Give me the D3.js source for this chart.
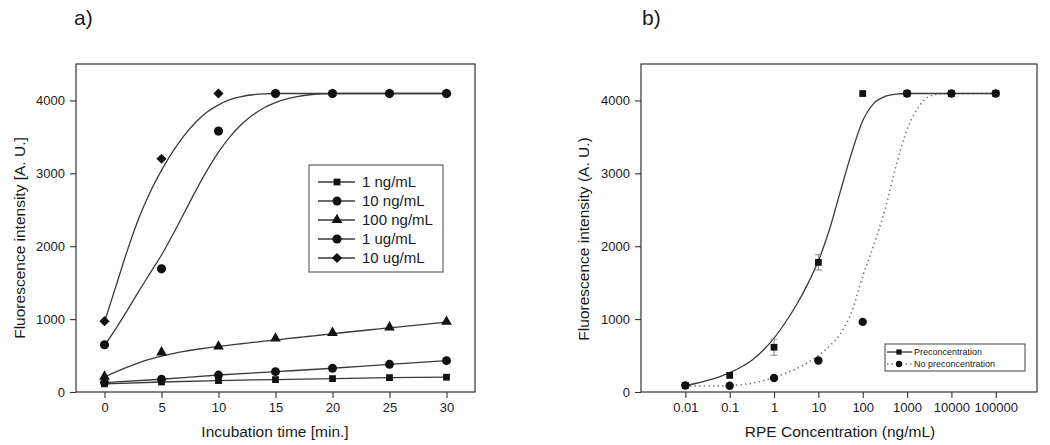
<!DOCTYPE html>
<html lang="en">
<head>
<meta charset="utf-8">
<title>Fluorescence intensity</title>
<script src="https://cdnjs.cloudflare.com/ajax/libs/d3/7.8.5/d3.min.js"></script>
<style>
  html, body {margin: 0; padding: 0; background: #fff;}
  svg {display: block; font-family: Arial, "Liberation Sans", Helvetica, sans-serif;}
  .frame {fill: none; stroke: #333; stroke-width: 1.2;}
  .tick line {stroke: #333; stroke-width: 1.1;}
  .tick text {fill: #1a1a1a; font-size: 13px;}
  text {fill: #1a1a1a;}
  .fit {fill: none; stroke: #3a3a3a; stroke-width: 1.3;}
  .dotted {fill: none; stroke: #777; stroke-width: 1.6; stroke-dasharray: 1.4 3.2;}
</style>
</head>
<body>
<svg id="chart" width="1050" height="445"></svg>
<script>
  // ---- panel a: incubation time ----
  var times = [0, 5, 10, 15, 20, 25, 30];
  var s1ng = [112, 137, 157, 170, 184, 197, 203];
  var s10ng = [130, 175, 233, 279, 326, 380, 430];
  var s100ng = [212, 545, 625, 735, 812, 888, 965];
  var s1ug = [648, 1690, 3580, 4095, 4095, 4095, 4095];
  var s10ug = [972, 3200, 4095, 4095, 4095, 4095, 4095];

  // fitted curves
  var fitTime = [0, 1, 2, 3, 4, 5, 6, 7, 8, 9, 10, 11, 12, 13, 14, 15, 16, 17, 18, 19, 20, 25, 30];
  var fit100ng = [205, 275, 340, 400, 450, 492, 528, 558, 583, 605, 625, 644, 662, 680, 697, 714, 731, 748, 765, 782, 800, 880, 960];
  var fit1ug = [640, 870, 1120, 1380, 1630, 1880, 2160, 2460, 2760, 3040, 3290, 3500, 3670, 3800, 3900, 3970, 4020, 4055, 4078, 4090, 4095, 4095, 4095];
  var fit10ug = [960, 1450, 1940, 2380, 2740, 3040, 3300, 3520, 3700, 3840, 3940, 4010, 4052, 4078, 4090, 4095, 4095, 4095, 4095, 4095, 4095, 4095, 4095];

  var legendA = ["1 ng/mL", "10 ng/mL", "100 ng/mL", "1 ug/mL", "10 ug/mL"];
  var xTicksA = [0, 5, 10, 15, 20, 25, 30];
  var yTicks = [0, 1000, 2000, 3000, 4000];

  // ---- panel b: RPE concentration ----
  var conc = [0.01, 0.1, 1, 10, 100, 1000, 10000, 100000];
  var preconc = [90, 228, 614, 1779, 4095, 4095, 4095, 4095];
  var preconcErr = [0, 0, 110, 105, 0, 0, 0, 0];
  var noPreconc = [90, 86, 193, 431, 962, 4095, 4095, 4095];

  // fitted curves, x given as log10(concentration)
  var preFitExp = [-2, -1.75, -1.5, -1.25, -1, -0.75, -0.5, -0.25, 0, 0.25, 0.5, 0.75, 1, 1.25, 1.5, 1.75, 2, 2.25, 2.5, 2.75, 3, 4, 5];
  var preFitVal = [88, 120, 160, 205, 265, 340, 435, 570, 740, 950, 1190, 1470, 1800, 2230, 2760, 3280, 3720, 3960, 4055, 4088, 4095, 4095, 4095];
  var noFitExp = [-2, -1.5, -1, -0.5, 0, 0.5, 1, 1.25, 1.5, 1.75, 2, 2.25, 2.5, 2.75, 3, 3.25, 3.5, 3.75, 4, 5];
  var noFitVal = [80, 82, 90, 120, 200, 320, 500, 630, 800, 1100, 1590, 2020, 2500, 3100, 3600, 3900, 4055, 4090, 4095, 4095];

  var legendB = ["Preconcentration", "No preconcentration"];
  var xTicksB = [0.01, 0.1, 1, 10, 100, 1000, 10000, 100000];

  var svg = d3.select("#chart");

  // ================= panel a =================
  var xa = d3.scaleLinear().domain([-2.5, 32.5]).range([76, 475]);
  var ya = d3.scaleLinear().domain([0, 4500]).range([392, 64]);

  var ga = svg.append("g");
  ga.append("g").attr("transform", "translate(76,0)")
    .call(d3.axisLeft(ya).tickValues(yTicks).tickSize(6).tickPadding(5).tickFormat(d3.format("d")))
    .call(function (g) { g.select(".domain").remove(); });
  ga.append("g").attr("transform", "translate(0,392)")
    .call(d3.axisBottom(xa).tickValues(xTicksA).tickSize(6).tickPadding(5).tickFormat(d3.format("d")))
    .call(function (g) { g.select(".domain").remove(); });
  ga.append("rect").attr("class", "frame")
    .attr("x", 76).attr("y", 64).attr("width", 399).attr("height", 328);

  var seriesA = [
    {name: legendA[0], vals: s1ng, fit: null, shape: d3.symbolSquare, size: 46, rot: 0},
    {name: legendA[1], vals: s10ng, fit: null, shape: d3.symbolCircle, size: 62, rot: 0},
    {name: legendA[2], vals: s100ng, fit: fit100ng, shape: d3.symbolTriangle, size: 50, rot: 0},
    {name: legendA[3], vals: s1ug, fit: fit1ug, shape: d3.symbolCircle, size: 66, rot: 0},
    {name: legendA[4], vals: s10ug, fit: fit10ug, shape: d3.symbolSquare, size: 52, rot: 45}
  ];

  var lineA = d3.line().x(function (d) { return xa(d[0]); }).y(function (d) { return ya(d[1]); })
    .curve(d3.curveMonotoneX);

  seriesA.forEach(function (s) {
    var pts = s.fit ? fitTime.map(function (t, i) { return [t, s.fit[i]]; })
                    : times.map(function (t, i) { return [t, s.vals[i]]; });
    ga.append("path").attr("class", "fit").attr("d", lineA(pts));
  });
  seriesA.forEach(function (s) {
    ga.selectAll(null).data(times).enter().append("path")
      .attr("d", d3.symbol().type(s.shape).size(s.size)())
      .attr("fill", "#111")
      .attr("transform", function (t, i) {
        return "translate(" + xa(t) + "," + ya(s.vals[i]) + ") rotate(" + s.rot + ")";
      });
  });

  // legend a
  var lga = ga.append("g");
  lga.append("rect").attr("x", 309).attr("y", 165).attr("width", 134).attr("height", 107)
    .attr("fill", "#fff").attr("stroke", "#555").attr("stroke-width", 1.1);
  seriesA.forEach(function (s, i) {
    var yy = 182 + i * 19;
    lga.append("line").attr("x1", 318).attr("x2", 355).attr("y1", yy).attr("y2", yy)
      .attr("stroke", "#3a3a3a").attr("stroke-width", 1.3);
    lga.append("path").attr("d", d3.symbol().type(s.shape).size(s.size)())
      .attr("fill", "#111")
      .attr("transform", "translate(337," + yy + ") rotate(" + s.rot + ")");
    lga.append("text").attr("x", 362).attr("y", yy).attr("dy", "0.36em")
      .attr("font-size", "15px").text(s.name);
  });

  ga.append("text").attr("x", 275).attr("y", 437).attr("text-anchor", "middle")
    .attr("font-size", "15.5px").text("Incubation time [min.]");
  ga.append("text").attr("transform", "translate(24.5,238) rotate(-90)").attr("text-anchor", "middle")
    .attr("font-size", "15.5px").text("Fluorescence intensity [A. U.]");
  ga.append("text").attr("x", 74).attr("y", 25).attr("font-size", "21px").text("a)");

  // ================= panel b =================
  var xb = d3.scaleLog().domain([1e-3, Math.pow(10, 5.93)]).range([641, 1037]);
  var yb = d3.scaleLinear().domain([0, 4500]).range([392, 64]);

  var gb = svg.append("g");
  gb.append("g").attr("transform", "translate(641,0)")
    .call(d3.axisLeft(yb).tickValues(yTicks).tickSize(6).tickPadding(5).tickFormat(d3.format("d")))
    .call(function (g) { g.select(".domain").remove(); });
  gb.append("g").attr("transform", "translate(0,392)")
    .call(d3.axisBottom(xb).tickValues(xTicksB).tickSize(6).tickPadding(5)
      .tickFormat(function (d) { return d < 1 ? String(d) : d3.format("d")(d); }))
    .call(function (g) { g.select(".domain").remove(); });
  gb.append("rect").attr("class", "frame")
    .attr("x", 641).attr("y", 64).attr("width", 396).attr("height", 328);

  var lineB = d3.line().x(function (d) { return xb(Math.pow(10, d[0])); }).y(function (d) { return yb(d[1]); })
    .curve(d3.curveMonotoneX);

  gb.append("path").attr("class", "dotted")
    .attr("d", lineB(noFitExp.map(function (e, i) { return [e, noFitVal[i]]; })));
  gb.append("path").attr("class", "fit")
    .attr("d", lineB(preFitExp.map(function (e, i) { return [e, preFitVal[i]]; })));

  // error bars
  conc.forEach(function (c, i) {
    var e = preconcErr[i];
    if (!e) return;
    var cx = xb(c), y1 = yb(preconc[i] - e), y2 = yb(preconc[i] + e);
    gb.append("line").attr("x1", cx).attr("x2", cx).attr("y1", y1).attr("y2", y2)
      .attr("stroke", "#888").attr("stroke-width", 1);
    [y1, y2].forEach(function (yy) {
      gb.append("line").attr("x1", cx - 3.5).attr("x2", cx + 3.5).attr("y1", yy).attr("y2", yy)
        .attr("stroke", "#888").attr("stroke-width", 1);
    });
  });

  gb.selectAll(null).data(conc).enter().append("path")
    .attr("d", d3.symbol().type(d3.symbolSquare).size(46)())
    .attr("fill", "#111")
    .attr("transform", function (c, i) { return "translate(" + xb(c) + "," + yb(preconc[i]) + ")"; });
  gb.selectAll(null).data(conc).enter().append("path")
    .attr("d", d3.symbol().type(d3.symbolCircle).size(56)())
    .attr("fill", "#111")
    .attr("transform", function (c, i) { return "translate(" + xb(c) + "," + yb(noPreconc[i]) + ")"; });

  // legend b
  var lgb = gb.append("g");
  lgb.append("rect").attr("x", 885).attr("y", 344).attr("width", 140).attr("height", 27)
    .attr("fill", "#fff").attr("stroke", "#555").attr("stroke-width", 1.1);
  [352, 364].forEach(function (yy, i) {
    lgb.append("line").attr("x1", 887).attr("x2", 912).attr("y1", yy).attr("y2", yy)
      .attr("class", i === 0 ? "fit" : "dotted");
    lgb.append("path").attr("d", d3.symbol().type(i === 0 ? d3.symbolSquare : d3.symbolCircle).size(i === 0 ? 28 : 32)())
      .attr("fill", "#111").attr("transform", "translate(899," + yy + ")");
    lgb.append("text").attr("x", 914).attr("y", yy).attr("dy", "0.36em")
      .attr("font-size", "9px").text(legendB[i]);
  });

  gb.append("text").attr("x", 840).attr("y", 437).attr("text-anchor", "middle")
    .attr("font-size", "15.5px").text("RPE Concentration (ng/mL)");
  gb.append("text").attr("transform", "translate(589,239) rotate(-90)").attr("text-anchor", "middle")
    .attr("font-size", "15.5px").text("Fluorescence intensity (A. U.)");
  gb.append("text").attr("x", 642).attr("y", 25).attr("font-size", "21px").text("b)");
</script>
</body>
</html>
